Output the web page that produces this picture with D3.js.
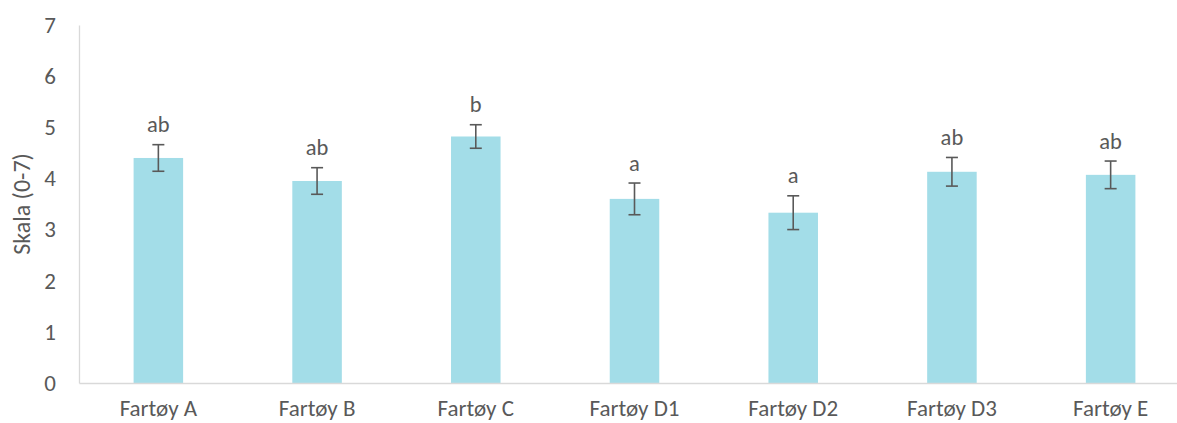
<!DOCTYPE html>
<html>
<head>
<meta charset="utf-8">
<script src="https://cdn.jsdelivr.net/npm/d3@7"></script>
<style>
    body { margin: 0; background: #fff; }
    text { font-family: Calibri, Carlito, Lato, sans-serif; fill: #595959; }
</style>
</head>
<body>
<div id="graph-container"></div>
<script>
const categories = ['Fartøy A', 'Fartøy B', 'Fartøy C', 'Fartøy D1', 'Fartøy D2', 'Fartøy D3', 'Fartøy E'];
const means = [4.40, 3.95, 4.82, 3.60, 3.33, 4.13, 4.07];
const errors = [0.26, 0.26, 0.23, 0.31, 0.33, 0.28, 0.27];
const letters = ['ab', 'ab', 'b', 'a', 'a', 'ab', 'ab'];
const yTicks = [0, 1, 2, 3, 4, 5, 6, 7];

const WIDTH = 1177,
    HEIGHT = 423;

const margin = { top: 25, bottom: 40, left: 79, right: -13 };

const width = WIDTH - margin.left - margin.right,
    height = HEIGHT - margin.top - margin.bottom;

const data = categories.map((c, i) => ({
    cat: c, mean: means[i], err: errors[i], letter: letters[i]
}));

const svg = d3.select('#graph-container').append('svg')
    .attr('width', WIDTH)
    .attr('height', HEIGHT);

const container = svg.append('g')
    .attr('transform', `translate(${margin.left} ${margin.top})`);

const xScale = d3.scaleBand()
    .domain(categories)
    .range([0, width])
    .paddingInner(0.688)
    .paddingOuter(0.344);

const yScale = d3.scaleLinear()
    .domain([0, 7])
    .range([height, 0]);

// y axis
const yAxis = container.append('g')
    .call(d3.axisLeft(yScale).tickValues(yTicks).tickFormat(d3.format('d')).tickSize(0).tickPadding(23));
yAxis.select('.domain').attr('stroke', '#d9d9d9').attr('stroke-width', 1.3);
yAxis.selectAll('text').style('font-size', '23px').attr('fill', '#595959');

// bars
container.selectAll('rect.bar')
    .data(data)
    .join('rect')
    .attr('class', 'bar')
    .attr('x', (d) => xScale(d.cat))
    .attr('width', xScale.bandwidth())
    .attr('y', (d) => yScale(d.mean))
    .attr('height', (d) => height - yScale(d.mean))
    .attr('fill', '#a3dde8');

// x axis
const xAxis = container.append('g')
    .attr('transform', `translate(0, ${height})`)
    .call(d3.axisBottom(xScale).tickSize(0).tickPadding(17));
xAxis.select('.domain').attr('stroke', '#d9d9d9').attr('stroke-width', 1.5);
xAxis.selectAll('text').style('font-size', '23px').attr('fill', '#595959');

// error bars
const errG = container.selectAll('g.err')
    .data(data)
    .join('g')
    .attr('class', 'err')
    .attr('stroke', '#595959')
    .attr('stroke-width', 1.6);

const cx = (d) => xScale(d.cat) + xScale.bandwidth() / 2;

errG.append('line')
    .attr('x1', cx).attr('x2', cx)
    .attr('y1', (d) => yScale(d.mean + d.err))
    .attr('y2', (d) => yScale(d.mean - d.err));
errG.append('line')
    .attr('x1', (d) => cx(d) - 6).attr('x2', (d) => cx(d) + 6)
    .attr('y1', (d) => yScale(d.mean + d.err))
    .attr('y2', (d) => yScale(d.mean + d.err));
errG.append('line')
    .attr('x1', (d) => cx(d) - 6).attr('x2', (d) => cx(d) + 6)
    .attr('y1', (d) => yScale(d.mean - d.err))
    .attr('y2', (d) => yScale(d.mean - d.err));

// letters
container.selectAll('text.letter')
    .data(data)
    .join('text')
    .attr('class', 'letter')
    .attr('x', cx)
    .attr('y', (d) => yScale(d.mean + d.err) - 12.5)
    .style('text-anchor', 'middle')
    .style('font-size', '22.5px')
    .text((d) => d.letter);

// y title
svg.append('text')
    .attr('transform', `translate(30, ${margin.top + height / 2}) rotate(-90)`)
    .style('text-anchor', 'middle')
    .style('font-size', '24px')
    .text('Skala (0-7)');
</script>
</body>
</html>
